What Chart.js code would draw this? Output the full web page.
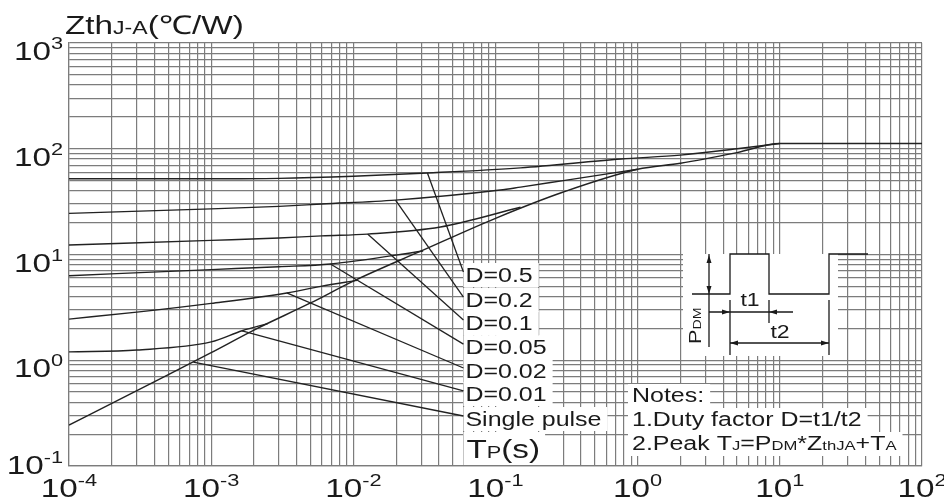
<!DOCTYPE html>
<html>
<head>
<meta charset="utf-8">
<script src="https://cdn.jsdelivr.net/npm/chart.js@4/dist/chart.umd.min.js"></script>
<style>
  html, body { margin: 0; padding: 0; background: #fff; }
  #wrap { width: 944px; height: 498px; }
</style>
</head>
<body>
<div id="wrap"><canvas id="zth" width="944" height="498"></canvas></div>
<script>
// Transient thermal impedance Zth(j-a) vs pulse time, log-log

const xTickExps = [-4, -3, -2, -1, 0, 1, 2];
const yTickExps = [-1, 0, 1, 2, 3];
const minorSteps = [1, 2, 3, 4, 5, 6, 7, 8, 9];

// single pulse
const singleT = [1e-4, 2e-4, 5e-4, 1e-3, 2e-3, 5e-3, 1e-2, 3e-2, 0.1, 0.3, 1, 2, 5, 10, 100];
const singleZ = [0.244, 0.39, 0.73, 1.18, 1.93, 3.48, 5.6, 10.8, 22, 39, 64, 73, 92, 112, 112];

// duty factor curves, each one runs until it joins the single pulse curve
const d05T = [1e-4, 1e-3, 3e-3, 1e-2, 0.0332, 0.15, 0.76, 2, 5, 10];
const d05Z = [52, 52, 52.5, 55, 59, 66, 80, 87, 100, 112];
const d02T = [1e-4, 1e-3, 3e-3, 6e-3, 0.0198, 0.108, 0.15, 0.3, 1];
const d02Z = [24.5, 27, 28.5, 30, 32.7, 40.7, 43.4, 50, 64];
const d01T = [1e-4, 1e-3, 3e-3, 6e-3, 0.0126, 0.041, 0.15];
const d01Z = [12.3, 13.6, 14.3, 15, 15.6, 18.2, 28];
const d005T = [1e-4, 1e-3, 3e-3, 6.9e-3, 0.031];
const d005Z = [6.3, 7.2, 7.66, 8.13, 10.8];
const d002T = [1e-4, 3e-4, 1e-3, 3.4e-3, 5.9e-3, 0.0107];
const d002Z = [2.45, 2.85, 3.45, 4.33, 5.0, 5.7];
const d001T = [1e-4, 3e-4, 1e-3, 1.65e-3, 2.5e-3];
const d001Z = [1.2, 1.25, 1.49, 1.9, 2.22];

// curve labels with leader lines (from a point on the curve to the label)
const labelNames = ["D=0.5", "D=0.2", "D=0.1", "D=0.05", "D=0.02", "D=0.01", "Single pulse"];
const leaderFromT = [0.0332, 0.0198, 0.0126, 6.9e-3, 3.4e-3, 1.65e-3, 7.5e-4];
const leaderFromZ = [59, 32.7, 15.6, 8.13, 4.33, 1.9, 0.96];
const leaderToT = 0.0595;
const leaderToZ = [6.83, 3.96, 2.4, 1.42, 0.845, 0.512, 0.297];

const notesLines = ["Notes:", "1.Duty factor D=t1/t2"];

const SX = 1.28; // text in the source is drawn wide
const FONT = '"Liberation Sans", Arial, Helvetica, sans-serif';
const INK = "#1a1a1a";
const CURVE = "#222222";
const GRID = "#7c7c7c";

function setFont(ctx, size) {
  ctx.font = size + "px " + FONT;
}

function runsWidth(ctx, runs) {
  let w = 0;
  runs.forEach(([txt, size]) => {
    setFont(ctx, size);
    w += ctx.measureText(txt).width * SX;
  });
  return w;
}

// runs: [text, size, raise]
function drawRuns(ctx, runs, x, y, align) {
  const w = runsWidth(ctx, runs);
  let cx = align === "right" ? x - w : align === "center" ? x - w / 2 : x;
  ctx.textAlign = "left";
  ctx.textBaseline = "alphabetic";
  ctx.fillStyle = INK;
  runs.forEach(([txt, size, raise]) => {
    setFont(ctx, size);
    const tw = ctx.measureText(txt).width * SX;
    ctx.save();
    ctx.translate(cx, y - (raise || 0));
    ctx.scale(SX, 1);
    ctx.fillText(txt, 0, 0);
    ctx.restore();
    cx += tw;
  });
  return w;
}

function whiteBox(ctx, x, y, w, h) {
  ctx.fillStyle = "#fff";
  ctx.fillRect(x, y, w, h);
}

function arrowHead(ctx, x, y, dir) {
  const L = 8, W = 2.5;
  ctx.beginPath();
  ctx.moveTo(x, y);
  if (dir === "up") { ctx.lineTo(x - W, y + L); ctx.lineTo(x + W, y + L); }
  if (dir === "down") { ctx.lineTo(x - W, y - L); ctx.lineTo(x + W, y - L); }
  if (dir === "left") { ctx.lineTo(x + L, y - W); ctx.lineTo(x + L, y + W); }
  if (dir === "right") { ctx.lineTo(x - L, y - W); ctx.lineTo(x - L, y + W); }
  ctx.closePath();
  ctx.fill();
}

function seg(ctx, pts) {
  ctx.beginPath();
  ctx.moveTo(pts[0][0], pts[0][1]);
  for (let i = 1; i < pts.length; i++) ctx.lineTo(pts[i][0], pts[i][1]);
  ctx.stroke();
}

function noteTwo() {
  return [["2.Peak T", 19.5], ["J", 13], ["=P", 19.5], ["DM", 13], ["*Z", 19.5], ["thJA", 13], ["+T", 19.5], ["A", 13]];
}

const inset = { left: 683, top: 254, width: 155, height: 102 };
const notesBox = { left: 628, top: 384 };

const decor = {
  id: "decor",
  beforeDatasetsDraw(chart) {
    const { ctx, scales } = chart;
    const x = scales.x, y = scales.y;
    ctx.save();
    // label backgrounds
    const lx = x.getPixelForValue(leaderToT);
    labelNames.forEach((name, i) => {
      const cy = y.getPixelForValue(leaderToZ[i]) + 3;
      const w = runsWidth(ctx, [[name, 19.5]]);
      whiteBox(ctx, lx, cy - 12, w + 8, 24);
    });
    const tw = runsWidth(ctx, [["T", 26], ["P", 17], ["(s)", 26]]);
    whiteBox(ctx, lx, chart.chartArea.bottom - 34, tw + 8, 33);
    // notes
    const rows = [[[notesLines[0], 19.5]], [[notesLines[1], 19.5]], noteTwo()];
    rows.forEach((r, i) => {
      const w = runsWidth(ctx, r);
      whiteBox(ctx, notesBox.left, notesBox.top + i * 24, w + 10, 24);
    });
    // pulse inset
    whiteBox(ctx, inset.left, inset.top, inset.width, inset.height);
    ctx.restore();
  },
  afterDraw(chart) {
    const { ctx, scales, chartArea } = chart;
    const x = scales.x, y = scales.y;
    ctx.save();

    // tick labels
    xTickExps.forEach((e) => {
      const px = x.getPixelForValue(Math.pow(10, e));
      drawRuns(ctx, [["10", 26], [String(e), 17, 11]], px, 497, "center");
    });
    yTickExps.forEach((e) => {
      const py = y.getPixelForValue(Math.pow(10, e));
      const base = Math.min(py + 17, chartArea.bottom + 8);
      drawRuns(ctx, [["10", 26], [String(e), 17, 11]], 63, base, "right");
    });

    // axis titles
    drawRuns(ctx, [["Zth", 26], ["J-A", 18], ["(", 26], ["\u2103", 26], ["/W)", 26]], 65, 34, "left");
    const lx = x.getPixelForValue(leaderToT);
    drawRuns(ctx, [["T", 26], ["P", 17], ["(s)", 26]], lx + 3, chartArea.bottom - 8, "left");

    // curve labels
    labelNames.forEach((name, i) => {
      const cy = y.getPixelForValue(leaderToZ[i]) + 3;
      drawRuns(ctx, [[name, 19.5]], lx + 2, cy + 7, "left");
    });

    // notes
    drawRuns(ctx, [[notesLines[0], 19.5]], notesBox.left + 4, notesBox.top + 18, "left");
    drawRuns(ctx, [[notesLines[1], 19.5]], notesBox.left + 4, notesBox.top + 42, "left");
    drawRuns(ctx, noteTwo(), notesBox.left + 4, notesBox.top + 66, "left");

    // pulse diagram
    const ox = inset.left, oy = inset.top;
    ctx.strokeStyle = INK;
    ctx.fillStyle = INK;
    ctx.lineWidth = 1.3;
    seg(ctx, [[ox + 9, oy + 40], [ox + 47, oy + 40], [ox + 47, oy], [ox + 86, oy], [ox + 86, oy + 40],
      [ox + 146, oy + 40], [ox + 146, oy], [ox + 185, oy]]);
    seg(ctx, [[ox + 26, oy], [ox + 26, oy + 93]]);
    arrowHead(ctx, ox + 26, oy + 1, "up");
    arrowHead(ctx, ox + 26, oy + 40, "down");
    // t1
    seg(ctx, [[ox + 26, oy + 58], [ox + 110, oy + 58]]);
    arrowHead(ctx, ox + 47, oy + 58, "right");
    arrowHead(ctx, ox + 86, oy + 58, "left");
    seg(ctx, [[ox + 47, oy + 46], [ox + 47, oy + 101]]);
    seg(ctx, [[ox + 86, oy + 46], [ox + 86, oy + 69]]);
    // t2
    seg(ctx, [[ox + 47, oy + 89], [ox + 146, oy + 89]]);
    arrowHead(ctx, ox + 47, oy + 89, "left");
    arrowHead(ctx, ox + 146, oy + 89, "right");
    seg(ctx, [[ox + 146, oy + 46], [ox + 146, oy + 101]]);
    drawRuns(ctx, [["t1", 18]], ox + 67, oy + 52, "center");
    drawRuns(ctx, [["t2", 18]], ox + 97, oy + 84, "center");
    // PDM, rotated
    ctx.save();
    ctx.translate(ox + 18, oy + 90);
    ctx.rotate(-Math.PI / 2);
    drawRuns(ctx, [["P", 17], ["DM", 11]], 0, 0, "left");
    ctx.restore();

    ctx.restore();
  },
};

function curveSet(t, z) {
  return {
    data: t.map((v, i) => ({ x: v, y: z[i] })),
    borderColor: CURVE,
    borderWidth: 1.4,
    pointRadius: 0,
    fill: false,
    cubicInterpolationMode: "monotone",
  };
}

function leaderSet(i) {
  return {
    data: [{ x: leaderFromT[i], y: leaderFromZ[i] }, { x: leaderToT, y: leaderToZ[i] }],
    borderColor: CURVE,
    borderWidth: 1.3,
    pointRadius: 0,
    fill: false,
    tension: 0,
  };
}

const datasets = [
  curveSet(singleT, singleZ),
  curveSet(d05T, d05Z),
  curveSet(d02T, d02Z),
  curveSet(d01T, d01Z),
  curveSet(d005T, d005Z),
  curveSet(d002T, d002Z),
  curveSet(d001T, d001Z),
].concat(labelNames.map((n, i) => leaderSet(i)));

// grid at 1..9 of every decade
function decadeTicks(exps) {
  const out = [];
  exps.slice(0, -1).forEach((e) => {
    minorSteps.forEach((s) => out.push({ value: s * Math.pow(10, e) }));
  });
  out.push({ value: Math.pow(10, exps[exps.length - 1]) });
  return out;
}

const axisOpts = (exps) => ({
  type: "logarithmic",
  min: Math.pow(10, exps[0]),
  max: Math.pow(10, exps[exps.length - 1]),
  afterBuildTicks: (scale) => {
    scale.ticks = decadeTicks(exps);
  },
  ticks: { display: false },
  grid: { color: GRID, lineWidth: 1.2, drawTicks: false },
  border: { color: GRID, width: 1.2 },
});

new Chart(document.getElementById("zth"), {
  type: "line",
  data: { datasets: datasets },
  options: {
    responsive: false,
    devicePixelRatio: 1,
    animation: false,
    layout: { padding: { left: 69, top: 43, right: 22, bottom: 32 } },
    scales: {
      x: axisOpts(xTickExps),
      y: axisOpts(yTickExps),
    },
    plugins: {
      legend: { display: false },
      tooltip: { enabled: false },
    },
  },
  plugins: [decor],
});
</script>
</body>
</html>
